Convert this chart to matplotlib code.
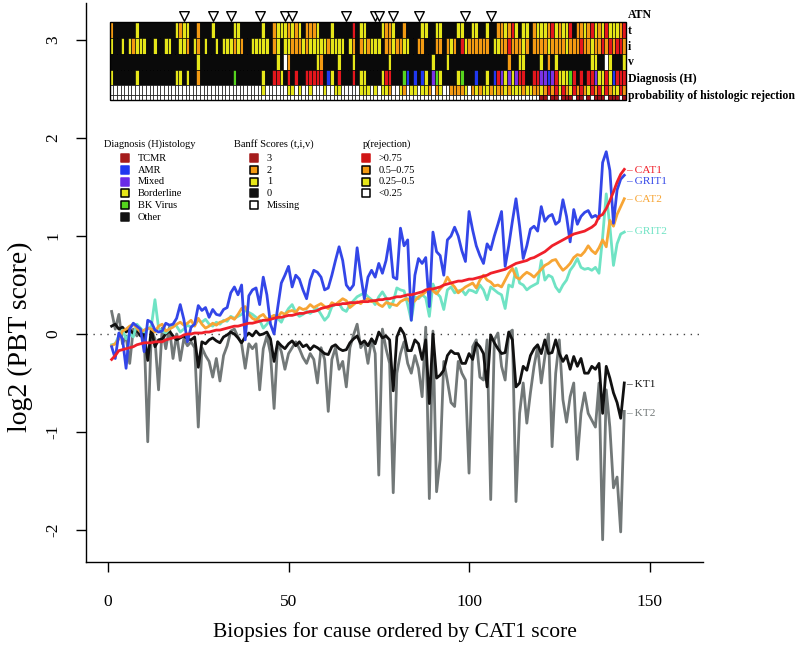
import matplotlib
matplotlib.use("Agg")
import matplotlib.pyplot as plt
from matplotlib.patches import Rectangle

plt.rcParams['font.family'] = ['Liberation Serif', 'DejaVu Serif']
plt.rcParams['axes.unicode_minus'] = False

# ---------------- data ----------------
biopsy = list(range(1, 144))

cat1 = [-0.26, -0.22, -0.17, -0.16, -0.15, -0.14, -0.13, -0.11, -0.10, -0.09,
        -0.09, -0.09, -0.08, -0.08, -0.08, -0.06, -0.05, -0.04, -0.03, -0.03,
        -0.01, 0.00, 0.00, 0.01, 0.01, 0.01, 0.02, 0.02, 0.03, 0.04,
        0.04, 0.05, 0.06, 0.07, 0.08, 0.08, 0.09, 0.10, 0.11, 0.11,
        0.12, 0.13, 0.14, 0.14, 0.15, 0.16, 0.17, 0.17, 0.18, 0.19,
        0.19, 0.20, 0.21, 0.21, 0.22, 0.23, 0.23, 0.24, 0.26, 0.27,
        0.28, 0.29, 0.30, 0.30, 0.31, 0.31, 0.32, 0.32, 0.32, 0.33,
        0.33, 0.33, 0.34, 0.34, 0.35, 0.35, 0.36, 0.36, 0.37, 0.38,
        0.38, 0.39, 0.40, 0.40, 0.41, 0.42, 0.43, 0.45, 0.46, 0.46,
        0.47, 0.48, 0.50, 0.51, 0.52, 0.53, 0.54, 0.54, 0.55, 0.56,
        0.56, 0.57, 0.58, 0.59, 0.60, 0.62, 0.63, 0.64, 0.65, 0.66,
        0.68, 0.70, 0.72, 0.73, 0.74, 0.75, 0.77, 0.78, 0.80, 0.82,
        0.84, 0.87, 0.90, 0.92, 0.94, 0.96, 0.98, 1.00, 1.02, 1.03,
        1.04, 1.05, 1.07, 1.09, 1.12, 1.20, 1.22, 1.28, 1.36, 1.45,
        1.55, 1.63, 1.68]

grit1 = [-0.13, -0.25, 0.01, -0.05, -0.35, 0.05, 0.11, 0.08, 0.05, -0.18,
         0.14, 0.12, 0.04, 0.02, 0.03, 0.11, 0.09, 0.10, 0.16, 0.30,
         0.15, -0.08, 0.07, 0.10, 0.29, 0.24, 0.27, 0.17, 0.25, 0.20,
         0.19, 0.25, 0.27, 0.42, 0.48, 0.40, 0.50, -0.06, 0.39, 0.45,
         0.47, 0.30, 0.58, 0.40, 0.10, 0.00, 0.27, 0.52, 0.60, 0.69,
         0.48, 0.60, 0.56, 0.45, 0.36, 0.55, 0.65, 0.63, 0.58, 0.45,
         0.47, 0.60, 0.75, 0.89, 0.75, 0.50, 0.45, 0.50, 0.88, 0.60,
         0.36, 0.58, 0.65, 0.58, 0.72, 0.62, 0.75, 0.97, 0.58, 0.56,
         1.08, 0.90, 0.96, 0.14, 0.60, 0.77, 0.72, 0.78, 0.28, 1.04,
         0.84, 0.80, 0.60, 0.96, 1.00, 1.09, 1.00, 0.85, 0.74, 1.25,
         1.06, 0.90, 0.80, 0.72, 0.92, 0.86, 1.00, 1.12, 1.25, 0.69,
         0.90, 1.15, 1.38, 1.10, 0.77, 0.90, 1.07, 1.10, 1.05, 1.30,
         1.15, 1.20, 1.22, 1.12, 1.15, 1.37, 1.20, 0.94, 1.27, 1.12,
         1.20, 1.24, 1.26, 1.19, 1.21, 1.18, 1.75, 1.86, 1.67, 1.13,
         1.47, 1.58, 1.62]

cat2 = [-0.12, -0.10, -0.05, 0.03, 0.05, 0.08, 0.10, 0.06, 0.02, 0.04,
        0.06, 0.05, 0.02, 0.08, 0.10, 0.03, 0.05, 0.07, 0.10, 0.12,
        0.09, 0.11, 0.14, 0.08, 0.16, 0.10, 0.06, 0.08, 0.11, 0.09,
        0.12, 0.13, 0.15, 0.17, 0.15, 0.20, 0.26, 0.28, 0.20, 0.16,
        0.14, 0.18, 0.20, 0.15, 0.17, 0.19, 0.17, 0.22, 0.20, 0.23,
        0.24, 0.22, 0.27, 0.25, 0.26, 0.30, 0.27, 0.29, 0.31, 0.28,
        0.26, 0.32, 0.30, 0.33, 0.36, 0.34, 0.27, 0.30, 0.33, 0.31,
        0.35, 0.36, 0.33, 0.34, 0.30, 0.28, 0.32, 0.31, 0.30, 0.29,
        0.33, 0.35, 0.36, 0.31, 0.34, 0.38, 0.40, 0.43, 0.46, 0.44,
        0.41, 0.46, 0.50, 0.58, 0.52, 0.48, 0.42, 0.45, 0.48, 0.50,
        0.52, 0.47, 0.55, 0.60, 0.55, 0.53, 0.49, 0.50, 0.48, 0.55,
        0.62, 0.67, 0.58, 0.56, 0.60, 0.63, 0.61, 0.58, 0.62, 0.66,
        0.70, 0.72, 0.75, 0.76, 0.70, 0.65, 0.68, 0.72, 0.78, 0.81,
        0.80, 0.84, 0.90, 0.85, 0.82, 0.88, 0.96, 0.89, 1.16, 1.10,
        1.22, 1.30, 1.38]

grit2 = [-0.11, -0.10, -0.02, 0.04, -0.05, 0.00, -0.03, 0.10, 0.06, 0.02,
         0.05, 0.08, 0.35, 0.06, 0.03, 0.01, 0.05, 0.10, 0.08, 0.02,
         0.05, 0.09, 0.07, 0.10, 0.14, 0.12, 0.15, 0.10, 0.08, 0.12,
         0.10, 0.14, 0.13, 0.18, 0.16, 0.18, 0.20, 0.24, 0.22, 0.20,
         0.17, 0.14, 0.06, 0.10, 0.15, 0.19, 0.16, 0.12, 0.20, 0.26,
         0.30, 0.22, 0.18, 0.20, 0.23, 0.21, 0.24, 0.26, 0.20, 0.14,
         0.18, 0.28, 0.30, 0.31, 0.25, 0.23, 0.30, 0.34, 0.38, 0.40,
         0.42, 0.38, 0.35, 0.30, 0.38, 0.43, 0.37, 0.27, 0.33, 0.47,
         0.45, 0.44, 0.30, 0.14, 0.38, 0.36, 0.40, 0.37, 0.18, 0.51,
         0.42, 0.38, 0.25, 0.45, 0.48, 0.42, 0.44, 0.45, 0.40, 0.45,
         0.44, 0.42, 0.50, 0.45, 0.35, 0.48, 0.45, 0.42, 0.40, 0.26,
         0.50, 0.48, 0.67, 0.52, 0.50, 0.45, 0.48, 0.50, 0.52, 0.75,
         0.55, 0.60, 0.58, 0.48, 0.43, 0.50, 0.55, 0.65, 0.70, 0.77,
         0.68, 0.66, 0.67, 0.65, 0.68, 0.62, 0.99, 1.43, 1.10, 0.70,
         0.92, 1.02, 1.04]

kt1 = [0.08, 0.10, 0.05, 0.07, 0.02, 0.05, 0.00, 0.04, -0.02, 0.01,
       -0.27, 0.05, -0.13, -0.06, -0.05, 0.00, 0.03, -0.02, -0.06, -0.04,
       -0.02, -0.05, -0.06, -0.03, -0.34, -0.08, -0.10, -0.06, -0.04, -0.07,
       -0.09, -0.03, -0.01, 0.02, 0.00, -0.04, -0.09, -0.03, 0.01, -0.02,
       0.03, -0.01, 0.00, 0.02, -0.05, -0.28, -0.08, -0.12, -0.15, -0.10,
       -0.07, -0.12, -0.08, -0.13, -0.11, -0.16, -0.12, -0.14, -0.17, -0.20,
       -0.21, -0.13, -0.11, -0.15, -0.17, -0.16, -0.09, -0.05, -0.02, -0.10,
       -0.07, -0.12, -0.05, -0.10, 0.02, -0.04, -0.02, -0.06, -0.58, -0.03,
       0.06, 0.00, -0.17, -0.17, -0.06, -0.10, -0.26, -0.06, -0.71, 0.00,
       -0.45, -0.42, -0.37, -0.22, -0.17, -0.20, -0.20, -0.30, -0.30, -0.20,
       -0.26, -0.09, -0.13, -0.20, -0.54, -0.01, -0.09, -0.15, -0.20, -0.19,
       0.02, -0.06, -0.54, -0.50, -0.33, -0.37, -0.22, -0.15, -0.11, -0.20,
       -0.06, -0.20, -0.19, -0.06, -0.20, -0.28, -0.22, -0.36, -0.23, -0.33,
       -0.25, -0.40, -0.40, -0.33, -0.36, -0.30, -0.81, -0.33, -0.45, -0.60,
       -0.70, -0.86, -0.50]

kt2 = [0.23, 0.05, 0.20, -0.10, -0.02, -0.30, 0.05, -0.02, 0.04, 0.01,
       -1.10, 0.04, -0.05, -0.57, 0.06, -0.15, 0.07, -0.25, 0.00, -0.27,
       -0.05, -0.12, -0.08, -0.14, -0.95, -0.14, -0.22, -0.28, -0.44, -0.25,
       -0.48, -0.22, -0.12, 0.03, 0.05, -0.03, -0.10, -0.35, -0.10, -0.15,
       -0.10, -0.57, -0.15, -0.02, -0.20, -0.76, -0.08, -0.18, -0.36, -0.20,
       -0.14, -0.08, -0.15, -0.24, -0.30, -0.20, -0.26, -0.50, -0.14, -0.26,
       -0.79, -0.26, -0.14, -0.36, -0.28, -0.54, -0.14, -0.01, 0.10, -0.14,
       -0.08, -0.30, -0.05, -0.20, -1.44, 0.05, -0.15, -0.30, -1.62, -0.40,
       -0.20, -0.08, -0.30, -0.40, -0.22, -0.35, -0.64, 0.07, -1.68, 0.03,
       -1.61, -1.28, -0.28, -0.48, -0.70, -0.74, -0.28, -0.40, -0.47, -1.42,
       -0.13, -0.06, -0.44, -0.47, -0.06, -1.69, -0.06, 0.01, -0.33, -0.47,
       0.01, 0.04, -1.71, -0.81, -0.50, -0.91, -0.60, -0.33, -0.13, -0.50,
       -0.23, 0.00, -1.15, -0.40, -0.06, -0.67, -0.90, -0.64, -0.50, -1.28,
       -0.81, -0.60, -0.81, -0.88, -0.95, -0.50, -2.10, -0.57, -0.95, -1.57,
       -1.46, -2.02, -0.79]

atn_biopsies = [21, 29, 34, 42, 49, 51, 66, 74, 75, 79, 86, 99, 106]

# Banff scores: 0,1,2,3, M = missing
banff_t = ("2000000100" "0000000012" "1100200010" "0000110000" "0010021112"
           "1210222100" "0100000301" "1000012210" "0200001100" "1100001100"
           "1100100221" "2310110211" "1231211302" "2123121311" "123")
banff_i = ("1001012111" "0010011001" "1201201001" "0111212001" "1111021011"
           "2221211111" "2111101202" "1211102212" "2110022000" "2202120312"
           "2222201122" "3222120222" "2122221222" "3221223232" "332")
banff_v = ("0000000000" "0000000000" "0000100000" "0000000000" "00000010M2"
           "0000000120" "0001000100" "0000000100" "0000000001" "0001000000"
           "0000000000" "2001100001" "0201000000" "0001100M10" "001")
# Diagnosis: 0 other, B borderline, K BK virus, T TCMR, A AMR, X mixed, O other(orange)
diagnosis = ("B000000B00" "00000000BB" "0B00O00000" "0000K00000" "00B00TTB0T"
             "0T00TTTTT0" "AB0T000T0B" "B0000BTT00" "0KA0A0AB0X" "KB0000BK00"
             "0A00B0ATXB" "XBXTT00TTX" "XAXTBBBKT0" "T0TTXBBTBA" "TTT")
# p(rejection): W <0.25, Y 0.25-0.5, O 0.5-0.75, R >0.75
p_rejection = ("WWWWWWWWWW" "WWWWWWWWWW" "WWWWWWWWWW" "WWWWWWWWWW" "WWYWWWWWWY"
               "YWYWWYWWWY" "WWYYWWWWWY" "YYWYWYYOWW" "YOWYYWYYOW" "OYWWOOOOYW"
               "OYOYYOYOOY" "OYYYOYYOOY" "ORORYROYRO" "ROYRORYROY" "YRO")
p_strip = ("WWWWWWWWWW" "WWWWWWWWWW" "WWWWWWWWWW" "WWWWWWWWWW" "WWWWWWWWWW"
           "WWWWWWWWWW" "WWWWWWWWWW" "WWWWWWWWWW" "WWWWWWWWWW" "WWWWWWWWWW"
           "WWWWWWWWWW" "WWWWWWWWWD" "DWDDWDDDWD" "DWDWDDDWDD" "DWD")

series_names = ["CAT1", "GRIT1", "CAT2", "GRIT2", "KT1", "KT2"]
series_label_y = [1.67, 1.555, 1.375, 1.045, -0.52, -0.815]

row_labels = ["ATN", "t", "i", "v", "Diagnosis (H)", "probability of histologic rejection"]
row_label_y = [3.255, 3.095, 2.932, 2.772, 2.60, 2.43]

diag_legend = ["TCMR", "AMR", "Mixed", "Borderline", "BK Virus", "Other"]
banff_legend = ["3", "2", "1", "0", "Missing"]
prob_legend = [">0.75", "0.5\u20130.75", "0.25\u20130.5", "<0.25"]

x_ticks = [0, 50, 100, 150]
y_ticks = [-2, -1, 0, 1, 2, 3]

# ---------------- style ----------------
YEL, ORA, RED, BLK = '#e6e619', '#f39a12', '#e4161c', '#0a0a0a'
score_col = {'0': BLK, '1': YEL, '2': ORA, '3': RED, 'M': 'white'}
diag_col = {'0': BLK, 'B': YEL, 'K': '#55d41e', 'T': RED, 'A': '#2038f0',
            'X': '#7a33e6', 'O': ORA}
prob_col = {'W': 'white', 'Y': YEL, 'O': ORA, 'R': RED}
strip_col = {'W': 'white', 'D': '#a01018'}

series_data = [cat1, grit1, cat2, grit2, kt1, kt2]
series_col = ['#f0202a', '#3346e8', '#f7a535', '#6fe3c4', '#111111', '#727878']
draw_order = [5, 4, 3, 2, 1, 0]

fig = plt.figure(figsize=(8.0, 6.58), dpi=100)
ax = fig.add_axes([86 / 800, 1 - 562 / 658, (703 - 86) / 800, (562 - 3) / 658])
ax.set_xlim(-6.1, 164.8)
ax.set_ylim(-2.327, 3.378)

for s in ['top', 'right']:
    ax.spines[s].set_visible(False)
for s in ['left', 'bottom']:
    ax.spines[s].set_linewidth(1.0)

ax.axhline(0, color='#444444', lw=1.0, ls=(0, (1, 4)), zorder=1)

for k in draw_order:
    ax.plot(biopsy, series_data[k], color=series_col[k], lw=2.0, zorder=2,
            solid_joinstyle='round')

for name, yv, col in zip(series_names, series_label_y, series_col):
    ax.text(143.5, yv, "\u2013 " + name, color=col, fontsize=8.2,
            ha='left', va='center')

# heatmap rows
rows = [(banff_t, score_col, 3.02, 0.163),
        (banff_i, score_col, 2.857, 0.163),
        (banff_v, score_col, 2.694, 0.163),
        (diagnosis, diag_col, 2.541, 0.153),
        (p_rejection, prob_col, 2.44, 0.101),
        (p_strip, strip_col, 2.385, 0.055)]
for codes, cmap, y0, h in rows:
    ax.bar(biopsy, [h] * len(biopsy), bottom=y0, width=1.0,
           color=[cmap[c] for c in codes], edgecolor='black', linewidth=0.45,
           zorder=3)
ax.add_patch(Rectangle((0.5, 2.385), 143, 3.183 - 2.385, fill=False,
                       ec='black', lw=1.0, zorder=4))
ax.scatter(atn_biopsies, [3.245] * len(atn_biopsies), marker='v', s=48,
           facecolor='white', edgecolor='black', linewidth=1.0, zorder=5,
           clip_on=False)
for lab, yv in zip(row_labels, row_label_y):
    ax.text(143.9, yv, lab, fontsize=8.5, fontweight='bold', ha='left',
            va='center')

# legends
leg_rows = [1.793, 1.673, 1.554, 1.436, 1.316, 1.191]
leg_title_y = 1.939


def draw_legend(title, tx, sx, lx, labels, cols, edged):
    ax.text(tx, leg_title_y, title, fontsize=7.5, ha='left', va='center')
    for lab, yv, c, e in zip(labels, leg_rows, cols, edged):
        ax.scatter([sx], [yv], marker='s', s=28, facecolor=c,
                   edgecolor='black' if e else c, linewidth=1.1, zorder=5)
        ax.text(lx, yv, lab, fontsize=7.5, ha='left', va='center')


draw_legend("Diagnosis (H)istology", -1.1, 4.8, 8.2, diag_legend,
            ['#a51c1c', '#2038f0', '#6a2be8', YEL, '#55d41e', '#111111'],
            [False, False, False, True, True, False])
draw_legend("Banff Scores (t,i,v)", 34.9, 40.4, 44.0, banff_legend,
            ['#a51c1c', ORA, YEL, '#111111', 'white'],
            [False, True, True, False, True])
draw_legend("p(rejection)", 70.6, 71.5, 74.9, prob_legend,
            ['#d01515', ORA, YEL, 'white'],
            [False, True, True, True])

# axes
ax.set_xticks(x_ticks)
ax.set_xticklabels([str(v) for v in x_ticks])
ax.set_yticks(y_ticks)
ax.set_yticklabels([str(v) for v in y_ticks], rotation=90, va='center')
ax.tick_params(axis='both', direction='out', length=7, width=1.0,
               labelsize=12.5, colors='black')
ax.tick_params(axis='x', pad=16)
ax.tick_params(axis='y', pad=11)

fig.text((86 + 703) / 2 / 800, 1 - 632 / 658,
         "Biopsies for cause ordered by CAT1 score", fontsize=15.5,
         ha='center', va='center')
fig.text(20 / 800, 1 - 337 / 658, "log2 (PBT score)", fontsize=20,
         rotation=90, ha='center', va='center')

fig.savefig("out.png", dpi=100)
